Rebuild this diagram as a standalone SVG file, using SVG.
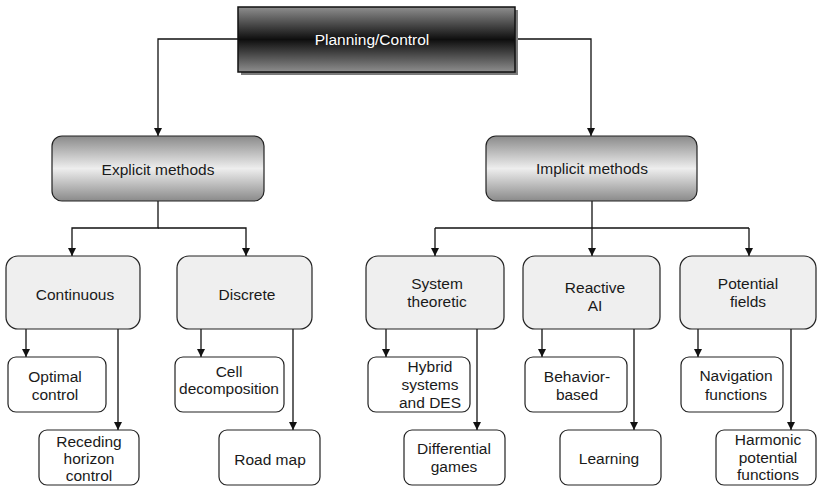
<svg xmlns="http://www.w3.org/2000/svg" width="817" height="486" viewBox="0 0 817 486">
  <defs>
    <linearGradient id="gradRoot" x1="0" y1="0" x2="0" y2="1">
      <stop offset="0" stop-color="#8e8e8e"/>
      <stop offset="0.5" stop-color="#0e0e0e"/>
      <stop offset="1" stop-color="#8e8e8e"/>
    </linearGradient>
    <linearGradient id="gradMid" x1="0" y1="0" x2="0" y2="1">
      <stop offset="0" stop-color="#8a8a8a"/>
      <stop offset="0.5" stop-color="#eeeeee"/>
      <stop offset="1" stop-color="#8a8a8a"/>
    </linearGradient>
    <marker id="arrow" viewBox="0 0 10 10" refX="10" refY="5" markerWidth="8" markerHeight="8" markerUnits="userSpaceOnUse" orient="auto">
      <path d="M0,0 L10,5 L0,10 Z" fill="#111"/>
    </marker>
  </defs>
  <style>
    text { font-family: "Liberation Sans", Arial, sans-serif; font-size: 15.5px; fill: #1a1a1a; text-anchor: middle; }
    .root-text { fill: #ffffff; }
    .conn { fill: none; stroke: #111; stroke-width: 1.3; }
    .mid { fill: url(#gradMid); stroke: #222; stroke-width: 1.2; }
    .cat { fill: #efefef; stroke: #222; stroke-width: 1.2; }
    .leaf { fill: #ffffff; stroke: #222; stroke-width: 1.2; }
  </style>

  <rect width="817" height="486" fill="#ffffff"/>

  <!-- connectors -->
  <g id="connectors">
    <path class="conn" d="M238,39 H158 V136" marker-end="url(#arrow)"/>
    <path class="conn" d="M515,39 H591 V136" marker-end="url(#arrow)"/>
    <path class="conn" d="M158,201 V228 H72 V256" marker-end="url(#arrow)"/>
    <path class="conn" d="M158,228 H246 V256" marker-end="url(#arrow)"/>
    <path class="conn" d="M592,201 V256" marker-end="url(#arrow)"/>
    <path class="conn" d="M435,228 H749"/>
    <path class="conn" d="M435,228 V256" marker-end="url(#arrow)"/>
    <path class="conn" d="M749,228 V256" marker-end="url(#arrow)"/>
    <path class="conn" d="M26,329 V357" marker-end="url(#arrow)"/>
    <path class="conn" d="M118,329 V430" marker-end="url(#arrow)"/>
    <path class="conn" d="M201,329 V357" marker-end="url(#arrow)"/>
    <path class="conn" d="M293,329 V430" marker-end="url(#arrow)"/>
    <path class="conn" d="M386,329 V357" marker-end="url(#arrow)"/>
    <path class="conn" d="M477,329 V430" marker-end="url(#arrow)"/>
    <path class="conn" d="M542,329 V357" marker-end="url(#arrow)"/>
    <path class="conn" d="M634,329 V430" marker-end="url(#arrow)"/>
    <path class="conn" d="M698,329 V357" marker-end="url(#arrow)"/>
    <path class="conn" d="M791,329 V430" marker-end="url(#arrow)"/>
  </g>

  <!-- root -->
  <g id="planning-control">
    <rect x="241" y="10" width="277" height="65" fill="#7a7a7a"/>
    <rect x="238" y="7" width="277" height="65" fill="url(#gradRoot)" stroke="#111" stroke-width="1.5"/>
    <text class="root-text" x="372" y="45">Planning/Control</text>
  </g>

  <!-- second level -->
  <g id="explicit-methods">
    <rect class="mid" x="52" y="136" width="212" height="65" rx="10"/>
    <text x="158" y="175">Explicit methods</text>
  </g>
  <g id="implicit-methods">
    <rect class="mid" x="486" y="136" width="211" height="65" rx="10"/>
    <text x="592" y="174">Implicit methods</text>
  </g>

  <!-- third level -->
  <g id="continuous">
    <rect class="cat" x="6" y="256" width="134" height="73" rx="12"/>
    <text x="75" y="300">Continuous</text>
  </g>
  <g id="discrete">
    <rect class="cat" x="177" y="256" width="135" height="73" rx="12"/>
    <text x="247" y="300">Discrete</text>
  </g>
  <g id="system-theoretic">
    <rect class="cat" x="366" y="256" width="138" height="73" rx="12"/>
    <text x="437" y="289">System</text>
    <text x="437" y="307">theoretic</text>
  </g>
  <g id="reactive-ai">
    <rect class="cat" x="523" y="256" width="137" height="73" rx="12"/>
    <text x="595" y="293">Reactive</text>
    <text x="595" y="311">AI</text>
  </g>
  <g id="potential-fields">
    <rect class="cat" x="680" y="256" width="136" height="73" rx="12"/>
    <text x="748" y="289">Potential</text>
    <text x="748" y="307">fields</text>
  </g>

  <!-- fourth level -->
  <g id="optimal-control">
    <rect class="leaf" x="8" y="357" width="98" height="55" rx="8"/>
    <text x="55" y="382">Optimal</text>
    <text x="55" y="400">control</text>
  </g>
  <g id="cell-decomposition">
    <rect class="leaf" x="175" y="357" width="109" height="55" rx="8"/>
    <text x="229" y="377">Cell</text>
    <text x="229" y="394">decomposition</text>
  </g>
  <g id="hybrid-systems">
    <rect class="leaf" x="368" y="357" width="102" height="55" rx="8"/>
    <text x="430" y="372">Hybrid</text>
    <text x="430" y="390">systems</text>
    <text x="430" y="408">and DES</text>
  </g>
  <g id="behavior-based">
    <rect class="leaf" x="525" y="357" width="102" height="55" rx="8"/>
    <text x="577" y="382">Behavior-</text>
    <text x="577" y="400">based</text>
  </g>
  <g id="navigation-functions">
    <rect class="leaf" x="681" y="357" width="102" height="55" rx="8"/>
    <text x="736" y="381">Navigation</text>
    <text x="736" y="400">functions</text>
  </g>

  <!-- fifth level -->
  <g id="receding-horizon">
    <rect class="leaf" x="39" y="430" width="100" height="55" rx="8"/>
    <text x="89" y="447">Receding</text>
    <text x="89" y="464">horizon</text>
    <text x="89" y="481">control</text>
  </g>
  <g id="road-map">
    <rect class="leaf" x="219" y="430" width="101" height="55" rx="8"/>
    <text x="270" y="465">Road map</text>
  </g>
  <g id="differential-games">
    <rect class="leaf" x="404" y="430" width="101" height="55" rx="8"/>
    <text x="454" y="454">Differential</text>
    <text x="454" y="472">games</text>
  </g>
  <g id="learning">
    <rect class="leaf" x="560" y="430" width="101" height="55" rx="8"/>
    <text x="609" y="464">Learning</text>
  </g>
  <g id="harmonic-functions">
    <rect class="leaf" x="716" y="430" width="100" height="55" rx="8"/>
    <text x="768" y="445">Harmonic</text>
    <text x="768" y="463">potential</text>
    <text x="768" y="480">functions</text>
  </g>
</svg>
